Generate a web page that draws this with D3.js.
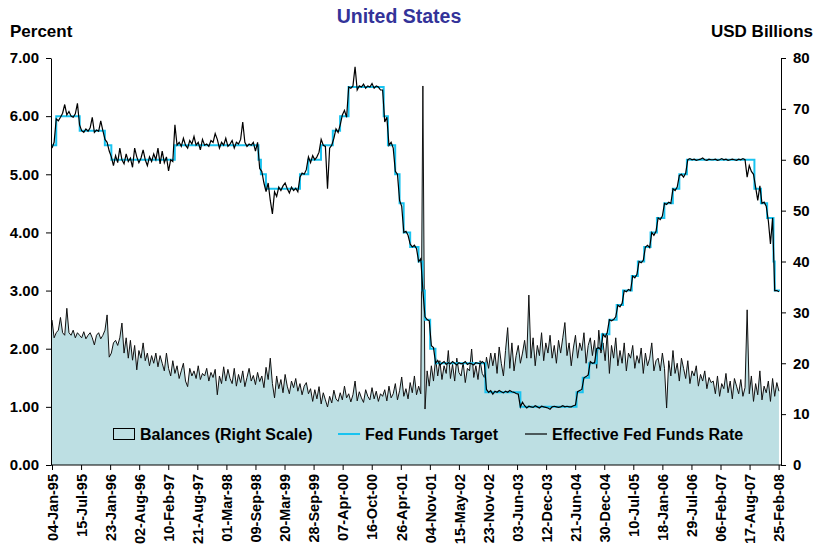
<!DOCTYPE html>
<html>
<head>
<meta charset="utf-8">
<script src="https://cdn.jsdelivr.net/npm/d3@7"></script>
<style>
  body { margin: 0; background: #fff; }
  svg text { font-family: "Liberation Sans", Arial, sans-serif; font-weight: bold; }
</style>
</head>
<body>
<div id="container"></div>
<script>
// x axis tick labels (every 192 days)
var tickLabels = ["04-Jan-95","15-Jul-95","23-Jan-96","02-Aug-96","10-Feb-97","21-Aug-97","01-Mar-98",
  "09-Sep-98","20-Mar-99","28-Sep-99","07-Apr-00","16-Oct-00","26-Apr-01","04-Nov-01","15-May-02",
  "23-Nov-02","03-Jun-03","12-Dec-03","21-Jun-04","30-Dec-04","10-Jul-05","18-Jan-06","29-Jul-06",
  "06-Feb-07","17-Aug-07","25-Feb-08"];
var leftTicks = [0, 1, 2, 3, 4, 5, 6, 7];
var rightTicks = [0, 10, 20, 30, 40, 50, 60, 70, 80];

// fed funds target: date of change and new level
var targetDates = ["1995-01-04","1995-02-01","1995-07-06","1995-12-19","1996-01-31","1997-03-25",
  "1998-09-29","1998-10-15","1998-11-17","1999-06-30","1999-08-24","1999-11-16","2000-02-02",
  "2000-03-21","2000-05-16","2001-01-03","2001-01-31","2001-03-20","2001-04-18","2001-05-15",
  "2001-06-27","2001-08-21","2001-09-17","2001-10-02","2001-11-06","2001-12-11","2002-11-06",
  "2003-06-25","2004-06-30","2004-08-10","2004-09-21","2004-11-10","2004-12-14","2005-02-02",
  "2005-03-22","2005-05-03","2005-06-30","2005-08-09","2005-09-20","2005-11-01","2005-12-13",
  "2006-01-31","2006-03-28","2006-05-10","2006-06-29","2007-09-18","2007-10-31","2007-12-11",
  "2008-01-22","2008-01-30","2008-03-05"];
var targetValues = [5.5,6.0,5.75,5.5,5.25,5.5,5.25,5.0,4.75,5.0,5.25,5.5,5.75,6.0,6.5,6.0,5.5,5.0,4.5,4.0,
  3.75,3.5,3.0,2.5,2.0,1.75,1.25,1.0,1.25,1.5,1.75,2.0,2.25,2.5,2.75,3.0,3.25,3.5,3.75,4.0,4.25,
  4.5,4.75,5.0,5.25,4.75,4.5,4.25,3.5,3.0,3.0];

// samples every two weeks from 04-Jan-95 (one row per year)
var sampleStart = "1995-01-04", sampleStepDays = 14;

// effective fed funds rate, percent
var effective = [
  5.45,5.55,5.95,5.92,5.98,6.05,6.2,6.02,6.08,6.0,5.98,6.04,6.22,5.85,5.75,5.72,5.78,5.74,5.8,5.98,5.72,5.76,5.74,5.92,5.75,5.6,
  5.55,5.4,5.3,5.15,5.32,5.2,5.45,5.25,5.18,5.35,5.22,5.28,5.12,5.45,5.3,5.2,5.28,5.42,5.25,5.15,5.3,5.22,5.35,5.25,5.45,5.18,
  5.4,5.2,5.3,5.06,5.25,5.22,5.85,5.5,5.55,5.48,5.62,5.5,5.45,5.58,5.52,5.65,5.5,5.55,5.42,5.6,5.5,5.52,5.48,5.58,5.55,5.7,
  5.6,5.45,5.55,5.5,5.62,5.48,5.52,5.58,5.45,5.55,5.52,5.6,5.9,5.55,5.48,5.52,5.5,5.55,5.4,5.55,5.1,5.05,4.85,4.7,4.85,4.55,
  4.32,4.7,4.62,4.78,4.72,4.8,4.85,4.75,4.68,4.78,4.72,4.76,4.7,4.95,5.02,5.0,5.08,5.3,5.2,5.32,5.25,5.3,5.38,5.6,5.5,5.48,
  4.75,5.45,5.5,5.62,5.78,5.72,5.85,6.02,6.1,5.98,6.5,6.48,6.52,6.85,6.45,6.52,6.5,6.55,6.48,6.52,6.5,6.56,6.48,6.52,6.5,6.45,
  6.45,5.9,5.98,5.5,5.55,5.45,5.05,5.0,4.55,4.45,4.0,4.02,3.95,3.8,3.75,3.78,3.72,3.5,3.55,3.0,2.55,2.5,2.48,2.05,2.02,1.75,
  1.8,1.72,1.75,1.78,1.73,1.76,1.74,1.78,1.75,1.72,1.76,1.74,1.75,1.78,1.73,1.75,1.74,1.72,1.76,1.75,1.74,1.78,1.75,1.3,1.25,1.28,
  1.22,1.27,1.25,1.28,1.26,1.24,1.27,1.25,1.28,1.26,1.25,1.23,1.22,1.0,1.08,1.02,0.98,1.01,1.0,0.99,1.02,1.0,0.98,1.01,1.0,0.99,
  0.98,0.96,1.0,1.01,1.0,0.99,1.0,1.02,1.0,1.01,1.0,1.0,1.02,1.03,1.26,1.28,1.3,1.5,1.52,1.55,1.78,1.75,1.76,2.0,2.02,1.98,
  2.25,2.2,2.28,2.5,2.48,2.5,2.55,2.75,2.72,2.78,3.0,2.98,3.02,3.0,3.25,3.22,3.28,3.5,3.48,3.52,3.75,3.78,3.74,4.0,3.95,4.02,
  4.25,4.22,4.28,4.5,4.48,4.52,4.5,4.75,4.72,4.78,4.98,5.0,4.95,5.02,5.25,5.27,5.25,5.26,5.24,5.25,5.26,5.28,5.25,5.24,5.26,5.25,
  5.25,5.26,5.24,5.25,5.27,5.25,5.26,5.24,5.25,5.26,5.25,5.24,5.26,5.25,5.27,5.25,4.95,5.15,5.05,5.0,4.78,4.55,4.8,4.5,4.52,4.45,
  4.2,3.8,4.25,3.0,3.0,2.98
];

// balances, USD billions (right scale)
var balances = [
  28.5,25,26,26.5,29,26,25.5,30.8,26,25.5,26.5,25,26,25.5,25,26.2,24.8,25.5,26,25,23.6,25.5,26,24.8,25.5,26.5,
  29.5,21.2,22,24,24.5,23.5,25,27.9,22,25,21,24.5,20.6,23.5,18.7,22.5,21,24,20.5,22,19.5,21.5,20,22,19.3,21.5,
  20,18.5,22,19,17.5,20.5,18,19.5,17,18.5,20,16.5,15.4,19,17.5,18.5,17,19.5,16.8,18,17.5,19,16.5,18.2,17.2,18.8,
  13.8,17.5,16,19.3,16.5,18.8,17,16,19,15.5,17.8,16.2,18.5,15.4,17.2,19,16.5,17.6,15.8,18.2,16.4,17.5,15.2,19.2,16.8,21,
  16,13.2,17.5,15,16.8,14.2,17.8,15.5,14,16.5,15.2,17,14.5,16,13.8,15.5,16.2,14,15,12.5,14.8,13,15.4,12,14.2,12.8,
  11.4,13.5,12.2,14.7,13,12.5,14.2,12.8,15.5,13.2,14,12.4,13.8,16.5,12.6,14.4,13.2,12.3,14.8,13.5,12.8,15.2,13,14.5,12.5,14,
  13.5,14.8,12.6,15.5,13.2,14,16,12.8,14.6,17.3,13.5,15,13,16.2,14.2,17.5,13.8,15.5,14,74.5,11,18.5,15.5,19.5,16.5,21,
  17.5,20.5,16.8,19.5,18,22.5,17,19.8,16.5,21,18.2,17.5,20.2,16.2,19,18.5,22.8,17.2,19.5,16.8,20.5,18,17.2,21.2,19,22,
  19.5,22,18,23.2,20,17.5,22.5,27,19,24,18.5,21.5,23.5,20,22,24.5,21,33.4,21,25,19.5,23.5,21.5,26,20.5,24,
  22,25.5,21,23.5,20,24.5,22,25,28,21.5,24,19.5,23,25.5,21,24,22.5,26,20,23.5,25,21.5,24.5,19,26.5,22,
  24,20.5,26,18,23.5,21,25,19.5,22.5,20,24,18.5,22,21,23.5,19,21.5,20,23,18,22,19.5,21,24,18.5,20.5,
  21,18.5,22,19,11.2,20.5,17.5,22.5,18,20,16.5,21,19,17,20.5,16,18.5,17.5,19.5,15.5,17.8,16.5,18.5,15,17.2,16.2,
  16.5,14,17.5,13.5,16,15,18,14.2,16.5,13,17,15.5,14,16.8,13.5,15.2,30.5,14,17.5,12.5,16,13.8,18.5,12.8,15.5,14.2,
  16.5,12.5,17,13.5,16.2,14.5
];

var W = 829, H = 558;
var parseISO = d3.timeParse("%Y-%m-%d"),
    parseTick = d3.timeParse("%d-%b-%y");
var t0 = parseISO(sampleStart);
var sampleDates = balances.map(function(d, i) { return d3.timeDay.offset(t0, i * sampleStepDays); });
var tickDates = tickLabels.map(parseTick);
var targetData = targetDates.map(function(d, i) { return [parseISO(d), targetValues[i]]; });

var svg = d3.select("#container").append("svg").attr("width", W).attr("height", H);

var x = d3.scaleTime().domain([t0, parseISO("2008-03-05")]).range([52, 780]);
var yL = d3.scaleLinear().domain([0, 7]).range([465, 58]);
var yR = d3.scaleLinear().domain([0, 80]).range([465, 58]);

// balances area + outline
var area = d3.area()
  .x(function(d, i) { return x(sampleDates[i]); })
  .y0(yR(0))
  .y1(function(d) { return yR(d); });
svg.append("path").datum(balances).attr("d", area).attr("fill", "#bddfe3");

var balLine = d3.line()
  .x(function(d, i) { return x(sampleDates[i]); })
  .y(function(d) { return yR(d); });
svg.append("path").datum(balances).attr("d", balLine)
  .attr("fill", "none").attr("stroke", "#111").attr("stroke-width", 1);

// target (step)
var tLine = d3.line().curve(d3.curveStepAfter)
  .x(function(d) { return x(d[0]); })
  .y(function(d) { return yL(d[1]); });
svg.append("path").datum(targetData).attr("d", tLine)
  .attr("fill", "none").attr("stroke", "#19c3f0").attr("stroke-width", 2);

// effective rate
var eLine = d3.line()
  .x(function(d, i) { return x(sampleDates[i]); })
  .y(function(d) { return yL(d); });
svg.append("path").datum(effective).attr("d", eLine)
  .attr("fill", "none").attr("stroke", "#000").attr("stroke-width", 1.2);

// axes
var gL = svg.append("g").attr("transform", "translate(51,0)")
  .call(d3.axisLeft(yL).tickValues(leftTicks).tickFormat(d3.format(".2f")).tickSize(5).tickSizeOuter(0).tickPadding(7));
var gR = svg.append("g").attr("transform", "translate(781,0)")
  .call(d3.axisRight(yR).tickValues(rightTicks).tickSize(5).tickSizeOuter(0).tickPadding(7));
var gX = svg.append("g").attr("transform", "translate(0,465)")
  .call(d3.axisBottom(x).tickValues(tickDates).tickFormat(d3.timeFormat("%d-%b-%y")).tickSize(5).tickSizeOuter(0));
gX.select(".domain").attr("d", "M51,0H781");
gX.selectAll("text")
  .attr("transform", "rotate(-90)")
  .attr("text-anchor", "end")
  .attr("x", -9).attr("y", 0).attr("dy", "0.36em");

[gL, gR, gX].forEach(function(g) {
  g.selectAll("path, line").attr("stroke", "#000").attr("stroke-width", 1);
  g.selectAll("text").attr("fill", "#000").style("font-size", "15px").style("font-family", "'Liberation Sans', Arial, sans-serif").style("font-weight", "bold");
});
gX.selectAll("text").style("font-size", "14.5px");

// titles
svg.append("text").attr("x", 399).attr("y", 23).attr("text-anchor", "middle")
  .attr("fill", "#333399").style("font-size", "19.5px").text("United States");
svg.append("text").attr("x", 10).attr("y", 37).style("font-size", "17px").text("Percent");
svg.append("text").attr("x", 813).attr("y", 37).attr("text-anchor", "end").style("font-size", "17px").text("USD Billions");

// legend
var lg = svg.append("g").style("font-size", "16px");
lg.append("rect").attr("x", 113.5).attr("y", 428.5).attr("width", 21).attr("height", 11)
  .attr("fill", "#bddfe3").attr("stroke", "#000");
lg.append("text").attr("x", 140).attr("y", 440).text("Balances (Right Scale)");
lg.append("line").attr("x1", 338).attr("x2", 360).attr("y1", 434).attr("y2", 434)
  .attr("stroke", "#19c3f0").attr("stroke-width", 2);
lg.append("text").attr("x", 365).attr("y", 440).text("Fed Funds Target");
lg.append("line").attr("x1", 525).attr("x2", 547).attr("y1", 434).attr("y2", 434)
  .attr("stroke", "#000").attr("stroke-width", 1.2);
lg.append("text").attr("x", 552).attr("y", 440).text("Effective Fed Funds Rate");
</script>
</body>
</html>
